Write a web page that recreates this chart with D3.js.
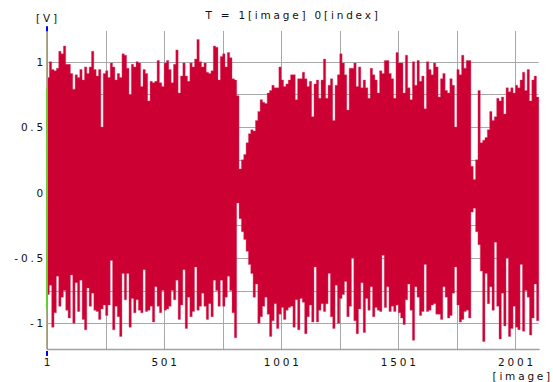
<!DOCTYPE html>
<html>
<head>
<meta charset="utf-8">
<script src="https://cdn.jsdelivr.net/npm/d3@7/dist/d3.min.js"></script>
<style>
  body { margin: 0; background: #fff; }
  svg text { font-family: "DejaVu Sans", sans-serif; font-size: 10.5px; fill: #111; letter-spacing: 2.8px; }
</style>
</head>
<body>
<div id="chart"></div>
<script>
// samples: one peak pair every 10 indices, starting at index 1
const step = 10;

const upper = [
  0.88, 1.0, 0.94, 0.93, 0.95, 1.08, 1.06, 1.12, 0.98, 0.98,
  0.91, 0.79, 0.9, 0.88, 0.94, 0.86, 0.96, 0.91, 0.96, 1.08,
  0.94, 0.89, 0.94, 0.5, 0.91, 0.93, 0.88, 0.99, 0.96, 0.86,
  0.91, 0.88, 1.06, 1.05, 0.95, 0.75, 0.98, 0.96, 1.0, 0.99,
  0.81, 0.94, 0.91, 0.7, 0.85, 0.84, 0.85, 1.01, 0.84, 0.81,
  0.99, 1.01, 0.94, 0.84, 0.98, 1.09, 0.76, 0.89, 0.99, 0.89,
  0.85, 0.99, 0.96, 1.02, 1.17, 1.0, 0.96, 0.99, 0.92, 0.91,
  0.93, 1.12, 1.11, 0.86, 1.04, 1.06, 0.96, 1.07, 1.03, 0.87,
  0.86,
  0.74, 0.18, 0.25, 0.29, 0.38, 0.45, 0.48, 0.47, 0.55, 0.62,
  0.71, 0.69, 0.68, 0.76, 0.78, 0.82, 0.8, 0.8, 0.96, 0.86,
  0.81, 0.83, 0.86,
  0.9, 0.9, 0.71, 0.87, 0.87, 0.92, 0.87, 0.81, 0.85, 0.58,
  0.83, 0.86, 0.72, 0.86, 1.02, 0.72, 0.82, 0.87, 0.55, 0.82,
  0.9, 1.06, 0.99, 0.9, 0.63, 0.95, 0.95, 0.99, 0.81, 0.96,
  0.8, 0.86, 0.8, 0.72, 0.95, 0.9, 0.86, 0.76, 0.93, 0.91,
  1.01, 1.01, 0.91, 0.87, 0.72, 1.07, 0.99, 0.99, 0.76, 1.05,
  0.8, 0.71, 1.0, 0.82, 1.01, 0.85, 0.89, 0.64, 1.0, 0.94,
  0.9, 0.99, 0.96, 0.73, 0.87, 0.91, 0.78, 0.76, 0.87, 0.82,
  0.5, 0.94, 0.9, 1.05, 0.95, 1.01, 1.01,
  0.2, 0.1, 0.25, 0.78, 0.38, 0.4, 0.42, 0.48, 0.62, 0.55,
  0.58, 0.72, 0.7, 0.73, 0.6, 0.8, 0.77, 0.8, 0.76, 0.82,
  0.8, 0.86, 0.92, 0.78, 0.94, 0.7, 0.86, 0.89, 0.73
];

const lower = [
  -0.78, -0.71, -1.03, -0.92, -0.64, -0.87, -0.8, -0.75, -0.9, -0.96,
  -0.63, -1.0, -0.69, -0.91, -0.67, -0.97, -1.05, -0.73, -0.87, -0.77,
  -0.9, -0.91, -0.97, -0.89, -0.86, -0.94, -0.86, -0.52, -1.05, -0.87,
  -0.95, -1.1, -0.62, -0.82, -0.62, -1.03, -0.81, -0.92, -0.82, -0.9,
  -0.92, -0.59, -0.91, -0.9, -0.87, -0.99, -0.72, -0.87, -0.92, -0.75,
  -0.9, -0.89, -0.87, -0.75, -0.82, -0.67, -0.97, -0.86, -0.59, -1.04,
  -0.8, -0.95, -0.91, -0.57, -0.9, -0.87, -0.77, -0.87, -0.97, -0.85,
  -0.95, -0.67, -0.75, -0.87, -0.67, -0.87, -0.8, -0.64, -0.75, -0.92,
  -1.11,
  -0.08, -0.2, -0.3, -0.36, -0.45, -0.55, -0.62, -0.8, -0.7, -1.0,
  -0.95, -0.87, -0.8, -0.93, -1.1, -0.98, -0.85, -1.04, -0.93, -0.88,
  -0.97, -0.9, -0.88,
  -0.87, -1.03, -0.82, -1.05, -0.81, -0.84, -1.08, -0.95, -0.86, -0.99,
  -0.57, -0.99, -0.9, -0.85, -0.91, -0.85, -0.62, -0.95, -1.04, -0.71,
  -1.0, -0.81, -0.78, -0.68, -0.95, -0.87, -0.5, -0.98, -1.08, -0.89,
  -0.69, -1.07, -0.81, -0.9, -0.72, -0.95, -0.88, -0.9, -0.91, -0.48,
  -0.88, -0.72, -0.91, -0.87, -0.91, -0.86, -0.92, -0.96, -1.01, -0.82,
  -0.7, -0.9, -1.13, -0.72, -0.8, -0.94, -0.91, -0.55, -0.91, -0.9,
  -0.86, -0.85, -0.93, -0.93, -0.97, -0.72, -0.8, -0.96, -0.94, -0.77,
  -0.57, -0.86, -0.99, -0.97, -0.91, -0.9, -0.96,
  -0.15, -0.12, -0.3, -0.4, -0.6, -1.14, -0.62, -0.85, -0.72, -0.9,
  -0.38, -0.87, -1.12, -0.77, -1.02, -0.5, -1.1, -1.04, -0.87, -1.03,
  -1.05, -0.55, -1.06, -0.75, -0.8, -1.09, -0.96, -0.7, -0.98
];

const xTicks = [1, 501, 1001, 1501, 2001];
const xGrid = [251, 501, 751, 1001, 1251, 1501, 1751, 2001];
const yTicks = [-1, -0.5, 0, 0.5, 1];
const yGrid = [-1, -0.75, -0.5, -0.25, 0, 0.25, 0.5, 0.75, 1];
const rangeBand = [0.8, -0.89];
const title = 'T = 1[image] 0[index]';
const yUnit = '[V]';
const xUnit = '[image]';

const width = 553, height = 382;

const x = d3.scaleLinear().domain([1, 2100]).range([47, 538.6]);
const y = d3.scaleLinear().domain([-1, 1]).range([323.3, 61.7]);
const yTop = 1.26, yBottom = -1.2;

const svg = d3.select('#chart').append('svg')
  .attr('width', width)
  .attr('height', height);

// grid
svg.append('g').selectAll('line')
  .data(yGrid)
  .enter().append('line')
  .attr('x1', x(1)).attr('x2', x(2100))
  .attr('y1', d => Math.round(y(d)) + 0.5).attr('y2', d => Math.round(y(d)) + 0.5)
  .attr('stroke', '#a8a8a8');

svg.append('g').selectAll('line')
  .data(xGrid)
  .enter().append('line')
  .attr('x1', d => Math.round(x(d)) + 0.5).attr('x2', d => Math.round(x(d)) + 0.5)
  .attr('y1', y(1.235)).attr('y2', y(yBottom))
  .attr('stroke', '#a8a8a8');

// waveform peaks, one step per sample
const data = upper.map((hi, k) => ({ i: 1 + k * step, hi: hi, lo: lower[k] }));
data.push({ i: 1 + data.length * step, hi: upper[upper.length - 1], lo: lower[lower.length - 1] });

const area = d3.area()
  .x(d => x(d.i))
  .y0(d => y(d.lo))
  .y1(d => y(d.hi))
  .curve(d3.curveStepAfter);

svg.append('path')
  .datum(data)
  .attr('d', area)
  .attr('fill', '#cc0033')
  .attr('stroke', '#d8406a')
  .attr('stroke-width', 0.4);

// bottom axis line
svg.append('line')
  .attr('x1', x(1)).attr('x2', x(2100) + 1)
  .attr('y1', y(yBottom)).attr('y2', y(yBottom))
  .attr('stroke', '#a0a0a0').attr('stroke-width', 1.5);

// left axis with range band and end marks
svg.append('line')
  .attr('x1', 46.5).attr('x2', 46.5)
  .attr('y1', y(yTop)).attr('y2', y(yBottom))
  .attr('stroke', '#b2ad8c');
svg.append('line')
  .attr('x1', 47.5).attr('x2', 47.5)
  .attr('y1', y(yTop)).attr('y2', y(yBottom))
  .attr('stroke', '#9494b4');
svg.append('line')
  .attr('x1', 47).attr('x2', 47)
  .attr('y1', y(rangeBand[0])).attr('y2', y(rangeBand[1]))
  .attr('stroke', '#66cc33').attr('stroke-width', 2);
svg.append('rect')
  .attr('x', 46).attr('y', y(yTop) - 1.5).attr('width', 2).attr('height', 5)
  .attr('fill', '#0000ff');
svg.append('rect')
  .attr('x', 46).attr('y', y(yBottom) + 1.5).attr('width', 2).attr('height', 5)
  .attr('fill', '#0000ff');

// tick labels
svg.append('g').selectAll('text')
  .data(yTicks)
  .enter().append('text')
  .attr('x', 46)
  .attr('y', d => y(d) + 4)
  .attr('text-anchor', 'end')
  .text(d => d3.format('')(d).replace('−', '-'));

svg.append('g').selectAll('text')
  .data(xTicks)
  .enter().append('text')
  .attr('x', d => x(d) + 1.5)
  .attr('y', 366)
  .attr('text-anchor', 'middle')
  .text(d => d);

svg.append('text')
  .attr('x', 293).attr('y', 19)
  .attr('text-anchor', 'middle')
  .text(title);

svg.append('text')
  .attr('x', 48).attr('y', 22)
  .attr('text-anchor', 'middle')
  .text(yUnit);

svg.append('text')
  .attr('x', 553).attr('y', 380)
  .attr('text-anchor', 'end')
  .text(xUnit);
</script>
</body>
</html>
